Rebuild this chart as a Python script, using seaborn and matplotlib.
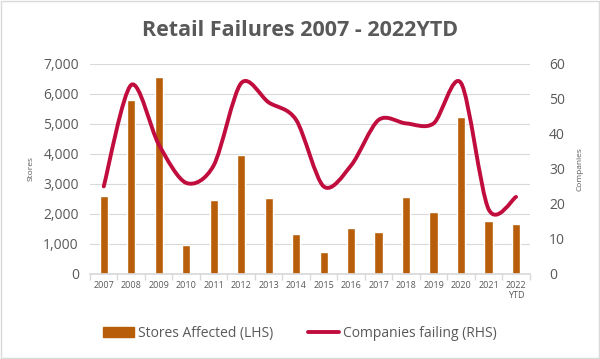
import numpy as np
import pandas as pd
import matplotlib
matplotlib.use("Agg")
import matplotlib.pyplot as plt
import seaborn as sns
from matplotlib.path import Path
from matplotlib.patches import PathPatch, Rectangle
from matplotlib.lines import Line2D

# data
years = ["2007", "2008", "2009", "2010", "2011", "2012", "2013", "2014",
         "2015", "2016", "2017", "2018", "2019", "2020", "2021", "2022\nYTD"]
stores = [2600, 5800, 6550, 950, 2480, 3950, 2520, 1320,
          720, 1520, 1390, 2580, 2050, 5220, 1750, 1680]
companies = [25, 54, 37, 26, 31, 54.5, 49, 44,
             25, 31, 44, 43, 43, 54.5, 18.5, 22]

bar_color = "#B85E0A"
line_color = "#C00D3D"
text_gray = "#595959"
grid_gray = "#D9D9D9"

sns.set_theme(style="white")
plt.rcParams["font.family"] = ["Open Sans", "DejaVu Sans"]

df = pd.DataFrame({"Year": years, "Stores": stores, "Companies": companies})

fig = plt.figure(figsize=(6, 3.59), dpi=100)
ax = fig.add_axes([0.15, 0.237, 0.733, 0.585])

sns.barplot(data=df, x="Year", y="Stores", color=bar_color, width=0.3,
            saturation=1, ax=ax, zorder=2)
ax.set_ylim(0, 7000)
ax.set_yticks(range(0, 7001, 1000))
ax.set_yticklabels([f"{v:,}" for v in range(0, 7001, 1000)])
ax.set_xlim(-0.5, len(years) - 0.5)
ax.yaxis.grid(True, color=grid_gray, linewidth=0.8, zorder=0)
ax.set_axisbelow(True)
for s in ["top", "right", "left"]:
    ax.spines[s].set_visible(False)
ax.spines["bottom"].set_color(grid_gray)
ax.tick_params(axis="y", labelsize=10, colors=text_gray, length=0, pad=8)
ax.tick_params(axis="x", labelsize=6.5, colors=text_gray, length=0, pad=5)
ax.set_xticks(np.arange(-0.5, len(years), 1), minor=True)
ax.tick_params(axis="x", which="minor", length=4, color=grid_gray, bottom=True)
ax.set_xlabel("")
ax.set_ylabel("Stores", fontsize=6, color=text_gray, labelpad=6)

# right axis with a smoothed line (Excel-style curve)
ax2 = ax.twinx()
ax2.set_ylim(0, 60)
ax2.set_yticks(range(0, 61, 10))
x = np.arange(len(companies), dtype=float)
y = np.array(companies, dtype=float)
verts = [(x[0], y[0])]
codes = [Path.MOVETO]
t = 0.15
for i in range(len(x) - 1):
    p0 = (x[max(i - 1, 0)], y[max(i - 1, 0)])
    p1 = (x[i], y[i])
    p2 = (x[i + 1], y[i + 1])
    p3 = (x[min(i + 2, len(x) - 1)], y[min(i + 2, len(x) - 1)])
    c1 = (p1[0] + (p2[0] - p0[0]) * t, p1[1] + (p2[1] - p0[1]) * t)
    c2 = (p2[0] - (p3[0] - p1[0]) * t, p2[1] - (p3[1] - p1[1]) * t)
    verts += [c1, c2, p2]
    codes += [Path.CURVE4] * 3
ax2.add_patch(PathPatch(Path(verts, codes), facecolor="none",
                        edgecolor=line_color, linewidth=2.8, capstyle="round",
                        zorder=3))
for s in ["top", "right", "left", "bottom"]:
    ax2.spines[s].set_visible(False)
ax2.grid(False)
ax2.tick_params(axis="y", labelsize=10, colors=text_gray, length=0, pad=14)
ax2.set_ylabel("Companies", fontsize=6, color=text_gray, labelpad=8)

fig.text(0.5, 0.915, "Retail Failures 2007 - 2022YTD", ha="center", va="center",
         fontsize=15.5, fontweight="bold", color=text_gray)

handles = [Rectangle((0, 0), 1, 1, color=bar_color),
           Line2D([0], [0], color=line_color, linewidth=2.8)]
fig.legend(handles, ["Stores Affected (LHS)", "Companies failing (RHS)"],
           loc="center", bbox_to_anchor=(0.5, 0.072), ncol=2, frameon=False,
           fontsize=10, labelcolor=text_gray, handlelength=2.2,
           handletextpad=0.3, columnspacing=2.5)

fig.patches.append(Rectangle((0.002, 0.003), 0.996, 0.994, transform=fig.transFigure,
                             fill=False, edgecolor=grid_gray, linewidth=1))

fig.savefig("out.png", dpi=100)
